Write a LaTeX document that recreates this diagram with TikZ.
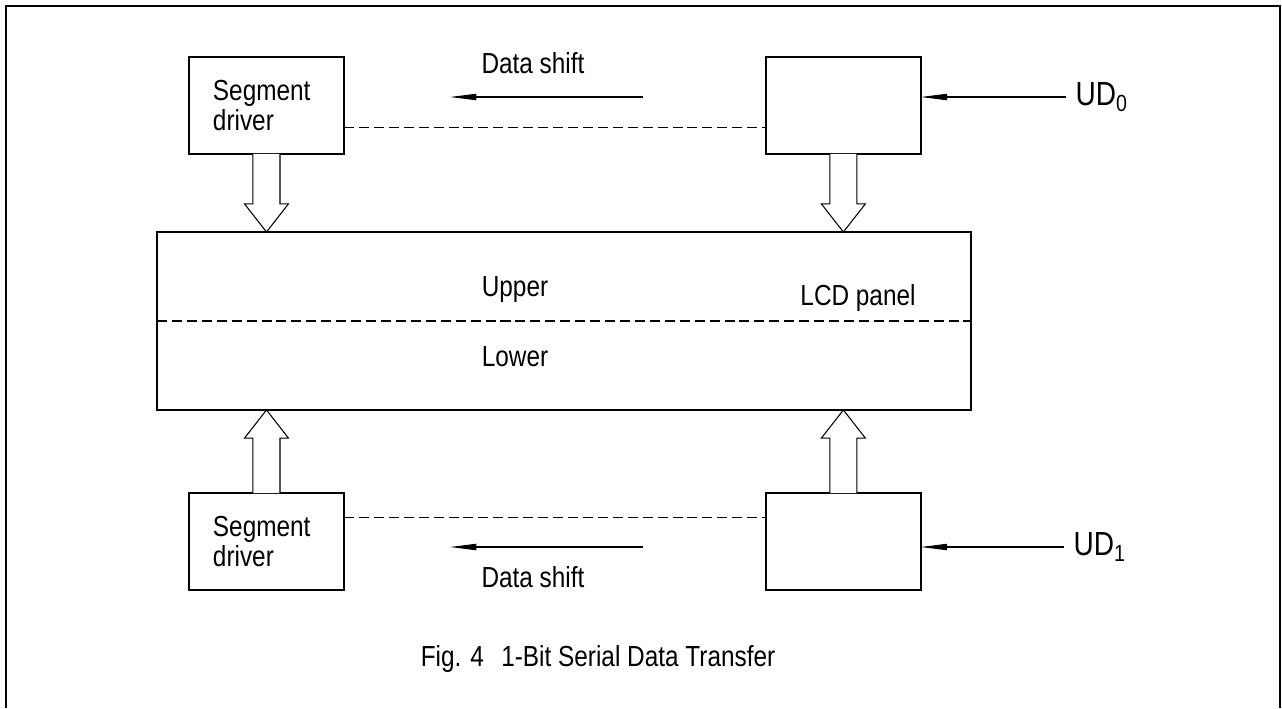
\documentclass[tikz,border=0pt]{standalone}
\usepackage{fontspec}
\setmainfont{Liberation Sans}[FakeStretch=0.84]
\usetikzlibrary{positioning, calc, arrows.meta}

% hollow bus arrow from #1 to #2 (vertical)
\newcommand\fatarrow[2]{%
  \draw[fat] let \p1=(#1), \p2=(#2), \n1={sign(\y2-\y1)} in
    (\x1-7.7pt,\y1) -- (\x1-7.7pt,\y2-\n1*16pt) -- (\x1-12.5pt,\y2-\n1*16pt) -- (\x1,\y2)
    -- (\x1+12.5pt,\y2-\n1*16pt) -- (\x1+7.7pt,\y2-\n1*16pt) -- (\x1+7.7pt,\y1);}

\begin{document}
\begin{tikzpicture}[x=0.02cm, y=-0.02cm, line width=.9pt, font=\fontsize{16.5pt}{17.6pt}\selectfont]
% Block styles
\tikzstyle{blk}=[draw=black, inner sep=0pt, outer sep=0pt, minimum width=3.1cm, minimum height=1.94cm]
\tikzstyle{drv}=[blk, inner xsep=.48cm, text width=2.14cm, align=left]
\tikzstyle{fat}=[draw=black, line width=.6pt, fill=white]
\tikzstyle{link}=[line width=.6pt, dash pattern=on 5.7pt off 2.8pt]
\tikzstyle{sig}=[line width=.6pt, -{Triangle[length=15pt, width=3.6pt]}]
\useasboundingbox (0,0) rectangle (1282,708);
% Frame
\draw[line width=1.2pt] (6,708) -- (6,6) -- (1280,6) -- (1280,708);
% Drivers
\node[drv, anchor=north west] (sd0) at (189,57) {Segment\\driver};
\node[blk, right=8.44cm of sd0] (rb0) {};
\node[drv, anchor=north west] (sd1) at (189,493) {Segment\\driver};
\node[blk, right=8.44cm of sd1] (rb1) {};
% Panel
\node[blk, anchor=north west, minimum width=16.28cm, minimum height=3.56cm] (lcd) at (157,232) {};
\node (up) at (515,290) {Upper};
\node (lo) at (515,357) {Lower};
\node (lcdl) at (858,298) {LCD panel};
\draw[link] (lcd.west) -- (lcd.east);
% Inputs
\node[anchor=west, inner sep=5pt, font=\fontsize{19pt}{20pt}\selectfont] (ud0) at (1066,97) {UD\textsubscript{0}};
\node[anchor=west, inner sep=5pt, font=\fontsize{19pt}{20pt}\selectfont] (ud1) at (1064,547) {UD\textsubscript{1}};
\draw[sig] (ud0.west) -- (ud0.west -| rb0.east);
\draw[sig] (ud1.west) -- (ud1.west -| rb1.east);
% Data shift
\node (ds0) at (533,63) {Data shift};
\node (ds1) at (533,577) {Data shift};
\coordinate (s0) at (643,97);
\coordinate (e0) at (450,97);
\coordinate (s1) at (643,547);
\coordinate (e1) at (450,547);
\draw[sig] (s0) -- (e0);
\draw[sig] (s1) -- (e1);
% Chains
\draw[link] ([yshift=-.44cm]sd0.east) -- ([yshift=-.44cm]rb0.west);
\draw[link] ([yshift=.48cm]sd1.east) -- ([yshift=.48cm]rb1.west);
% Bus arrows
\fatarrow{sd0.south}{sd0.south |- lcd.north}
\fatarrow{rb0.south}{rb0.south |- lcd.north}
\fatarrow{sd1.north}{sd1.north |- lcd.south}
\fatarrow{rb1.north}{rb1.north |- lcd.south}
% Caption
\node (cap) at (598,659) {Fig. 4\hspace{.6em}1-Bit Serial Data Transfer};
\end{tikzpicture}
\end{document}
